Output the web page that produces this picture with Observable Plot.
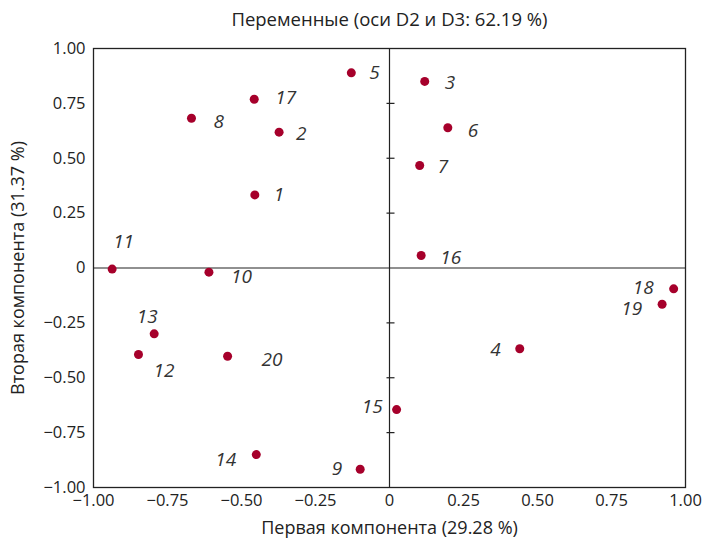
<!DOCTYPE html>
<html><head><meta charset="utf-8">
<script src="https://cdn.jsdelivr.net/npm/d3@7"></script>
<script src="https://cdn.jsdelivr.net/npm/@observablehq/plot@0.6"></script>
<style>body{margin:0;background:#fff} svg{font-family:"Open Sans",sans-serif}</style>
</head><body><div id="chart"></div>
<script>
const ids   = [1, 2, 3, 4, 5, 6, 7, 8, 9, 10, 11, 12, 13, 14, 15, 16, 17, 18, 19, 20];
const comp1 = [-0.455, -0.373, 0.119, 0.440, -0.129, 0.197, 0.102, -0.669, -0.099, -0.610, -0.937, -0.848, -0.795, -0.450, 0.024, 0.107, -0.457, 0.960, 0.921, -0.547];
const comp2 = [0.333, 0.619, 0.850, -0.368, 0.889, 0.639, 0.467, 0.682, -0.917, -0.019, -0.005, -0.394, -0.300, -0.850, -0.645, 0.057, 0.769, -0.095, -0.165, -0.402];
const axisTicks  = [-1, -0.75, -0.5, -0.25, 0, 0.25, 0.5, 0.75, 1];
const innerTicks = [-0.75, -0.5, -0.25, 0.25, 0.5, 0.75];
const title  = "Переменные (оси D2 и D3: 62.19 %)";
const xLabel = "Первая компонента (29.28 %)";
const yLabel = "Вторая компонента (31.37 %)";

// label placement (annotation offsets, px)
const labelAnchor = ["start","start","start","end","start","start","start","start","end","start","start","start","middle","end","end","start","start","end","end","start"];
const labelDx = [19, 17, 20, -19, 18, 20, 18, 22, -18, 22, 1, 15, -7, -20, -14, 19, 21, -20, -20, 34];
const labelDy = [0, 2, 1, 1, 0, 3, 1, 4, 0, 5, -27, 16, -17, 5, -3, 2, -1, -1, 5, 4];

const points = ids.map((id, i) => ({id, x: comp1[i], y: comp2[i]}));
const fmt = d => d === 0 ? "0" : d3.format(".2f")(d);
const hbar = {draw(ctx) { ctx.moveTo(-4, 0); ctx.lineTo(4, 0); }};
const ink = "#222";

const labelMarks = points.map((p, i) => Plot.text([p], {
  x: "x", y: "y", text: d => String(d.id),
  textAnchor: labelAnchor[i], dx: labelDx[i], dy: labelDy[i],
  lineAnchor: "middle", fontSize: 19, fontStyle: "italic", fill: "#333"
}));

const chart = Plot.plot({
  width: 704, height: 540,
  marginLeft: 93, marginRight: 19, marginTop: 48, marginBottom: 53,
  x: {domain: [-1, 1]},
  y: {domain: [-1, 1]},
  style: {fontFamily: "Open Sans", color: ink, background: "#fff"},
  marks: [
    Plot.axisX({ticks: axisTicks, tickFormat: fmt, tickSize: 0, tickPadding: 7, fontSize: 16.5, label: null}),
    Plot.axisY({ticks: axisTicks, tickFormat: fmt, tickSize: 0, tickPadding: 8, fontSize: 16.5, label: null}),
    Plot.text([xLabel], {frameAnchor: "bottom", dy: 41, lineAnchor: "middle", fontSize: 18, fill: ink}),
    Plot.text([yLabel], {frameAnchor: "left", dx: -75, rotate: -90, textAnchor: "middle", lineAnchor: "middle", fontSize: 18, fill: ink}),
    Plot.ruleX([0], {stroke: ink, strokeWidth: 1.2}),
    Plot.ruleY([0], {stroke: ink, strokeWidth: 1.2}),
    Plot.dot(innerTicks, {x: 0, y: d => d, symbol: hbar, dx: 1, fill: "none", stroke: ink, strokeWidth: 1.2}),
    Plot.frame({stroke: ink, strokeWidth: 1.3}),
    Plot.dot(points, {x: "x", y: "y", r: 4.5, fill: "#a6002b", stroke: "none"}),
    ...labelMarks,
    Plot.text([title], {frameAnchor: "top", dy: -28, lineAnchor: "middle", fontSize: 18.5, fill: ink})
  ]
});
document.getElementById("chart").appendChild(chart);
</script>
</body></html>
